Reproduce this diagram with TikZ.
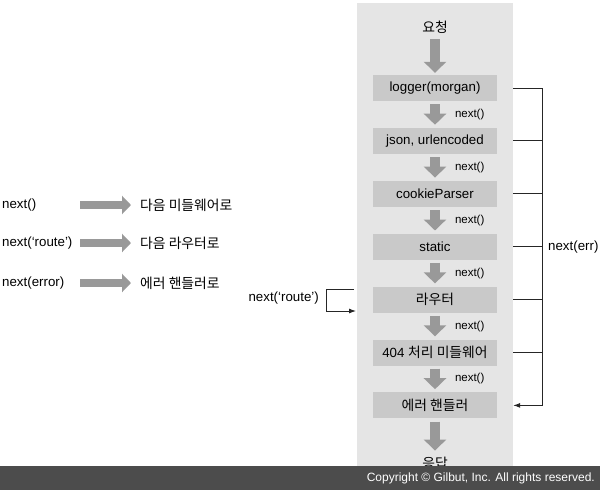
\documentclass[tikz,border=0pt]{standalone}
\usepackage{fontspec}
\setmainfont{Liberation Sans}
\newfontfamily\kr[Scale=1.04]{Noto Sans CJK KR}
\usetikzlibrary{arrows.meta, positioning}

\begin{document}
\begin{tikzpicture}[x=1pt, y=-1pt,
        node distance=26.5pt,
        panel/.style={rectangle, fill=black!10, minimum width=156pt, minimum height=463pt, inner sep=0pt},
        box/.style={rectangle, fill=black!21, minimum width=124pt, minimum height=26pt, inner sep=0pt, font=\fontsize{13.3}{15}\selectfont},
        txt/.style={inner sep=0pt, font=\fontsize{13.3}{15}\selectfont},
        small/.style={inner sep=0pt, font=\fontsize{11.5}{13}\selectfont},
        fat/.style={draw=black!40, line width=10pt, -{Triangle[width=22pt, length=11pt]}},
        legarrow/.style={draw=black!40, line width=8pt, -{Triangle[width=18pt, length=9pt]}},
        wire/.style={draw=black!85, line width=0.9pt},
        tip/.style={-{Latex[length=7pt, width=5pt]}}
    ]
        \useasboundingbox (0,0) rectangle (600,490);
        \node[panel] (panel) at (435,234.5) {};
        \node[box] (logger) at (435,88) {logger(morgan)};
        \node[box, below=of logger] (json) {json, urlencoded};
        \node[box, below=of json] (cookie) {cookieParser};
        \node[box, below=of cookie] (static) {static};
        \node[box, below=of static] (router) {{\kr 라우터}};
        \node[box, below=of router] (notfound) {404 {\kr 처리 미들웨어}};
        \node[box, below=of notfound] (handler) {{\kr 에러 핸들러}};
        \node[txt] (req) at (435,27) {\kr 요청};
        \node[txt] (resp) at (435,463) {\kr 응답};
        \draw[fat] ([yshift=-6pt]req.south) -- ([yshift=2pt]logger.north);
        \foreach \a/\b in {logger/json, json/cookie, cookie/static, static/router, router/notfound, notfound/handler}
            \draw[fat] ([yshift=-3pt]\a.south) -- node[small, right=15pt] {next()} ([yshift=3pt]\b.north);
        \draw[fat] ([yshift=-3pt]handler.south) -- ([yshift=6pt]resp.north);
        \coordinate (rail) at (542,0);
        \foreach \n in {logger, json, cookie, static, router, notfound}
            \draw[wire] (\n -| panel.east) -- (\n -| rail);
        \draw[wire, tip] (logger -| rail) -- (handler -| rail) -- (handler -| panel.east);
        \node[txt, anchor=west] (err) at ([xshift=6pt]static -| rail) {next(err)};
        \coordinate (loopx) at (326,0);
        \coordinate (rtop) at (354,289);
        \coordinate (rbot) at (356,311);
        \draw[wire, tip] (rtop) -- (rtop -| loopx) -- (rbot -| loopx) -- (rbot);
        \node[txt, anchor=east] (route) at (319,298) {next(‘route’)};
        \node[txt, anchor=west] (lg1) at (2,205) {next()};
        \node[txt, anchor=west] (lg2) at (2,243) {next(‘route’)};
        \node[txt, anchor=west] (lg3) at (2,283) {next(error)};
        \node[txt, anchor=west] (ds1) at (140,205) {\kr 다음 미들웨어로};
        \node[txt, anchor=west] (ds2) at (140,243) {\kr 다음 라우터로};
        \node[txt, anchor=west] (ds3) at (140,283) {\kr 에러 핸들러로};
        \coordinate (legx) at (80,0);
        \foreach \i in {1,2,3}
            \draw[legarrow] (lg\i -| legx) -- ([xshift=-9pt]ds\i.west);
        \fill[black!70] (0,466) rectangle (600,490);
        \node[small, white, anchor=east, font=\fontsize{12}{14}\selectfont] (copy) at (595,478) {Copyright © Gilbut, Inc. All rights reserved.};
    \end{tikzpicture}
\end{document}
